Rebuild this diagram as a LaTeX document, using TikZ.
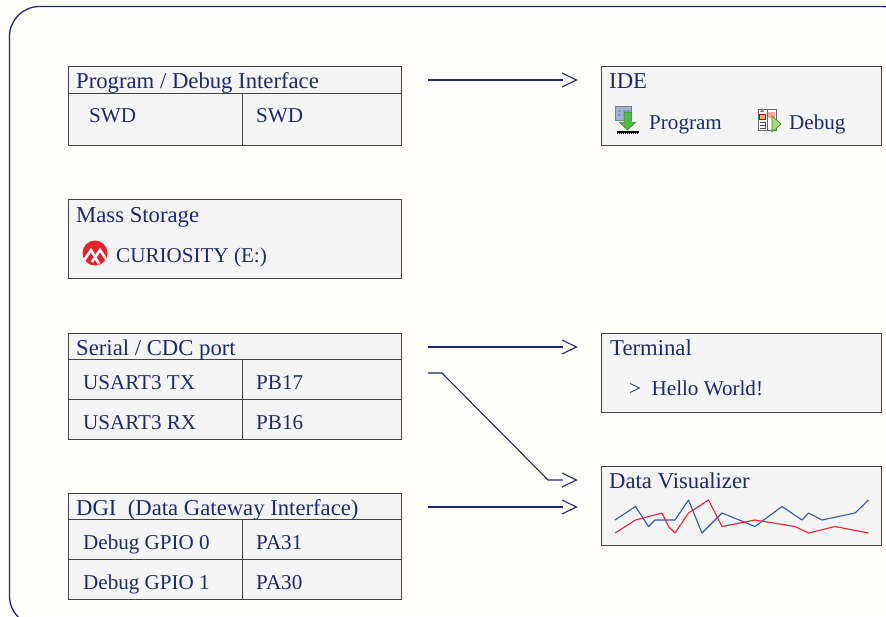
\documentclass[tikz,border=0pt]{standalone}
\usepackage{fontspec}
\setmainfont{Liberation Serif}
\usetikzlibrary{calc}
\definecolor{navy}{HTML}{1B2A6B}
\definecolor{paper}{HTML}{FFFEFB}
\definecolor{boxfill}{HTML}{F5F5F6}
\definecolor{edgegrey}{HTML}{444446}
\definecolor{lineblue}{HTML}{2F55A8}
\definecolor{linered}{HTML}{F0202F}
\definecolor{mchip}{HTML}{E8212B}
\definecolor{arrowgreen}{HTML}{56B848}
\definecolor{darkgreen}{HTML}{2F8A34}
\definecolor{chipblue}{HTML}{9DB4D8}
\definecolor{playgreen}{HTML}{A8D878}
\tikzset{
  x=1pt,y=-1pt,
  panel/.style={draw=edgegrey,fill=boxfill,line width=1pt,xshift=-.15pt,yshift=.15pt},
  rule/.style={draw=edgegrey,line width=1pt,xshift=-.15pt,yshift=.15pt},
  label/.style={anchor=base west,inner sep=0pt,text=navy,font=\fontsize{21.1}{24}\selectfont},
  head/.style={label,font=\fontsize{22.7}{26}\selectfont},
  wire/.style={draw=navy,line width=1.1pt},
  frame/.style={draw=navy,line width=1.3pt}
}
\newcommand{\openhead}[1]{\draw[wire,line join=miter] ($(#1)+(-14.5,-7)$) -- (#1) -- ($(#1)+(-14.5,7)$);}
\begin{document}
\begin{tikzpicture}
\useasboundingbox (0,0) rectangle (886,616);
\fill[paper] (0,0) rectangle (886,616);
\begin{scope}
\clip (0,0) rectangle (886,616);
\draw[frame,rounded corners=30pt] (9.5,626) -- (9.5,6.5) -- (912,6.5) -- (912,626) -- cycle;
\end{scope}

% Program / Debug
\draw[panel] (69,67) rectangle (402,146);
\draw[rule] (69,93.5) -- (402,93.5) (242.5,93.5) -- (242.5,146);
\node[head] (pd) at (76,88) {Program / Debug Interface};
\node[label] (swda) at (89,122) {SWD};
\node[label] (swdb) at (256,122) {SWD};

% Mass storage
\draw[panel] (69,200) rectangle (402,279);
\node[head] (ms) at (76,222) {Mass Storage};
\node[label] (cur) at (116,262) {CURIOSITY (E:)};
% Microchip logo
\fill[mchip] (95,253) circle (12.5);
\begin{scope}
\clip (95,253) circle (12.5);
\draw[white,line width=2.6pt] (83,262) -- (91,250) -- (99,264);
\draw[white,line width=2.6pt] (92,262) -- (100,250) -- (108,262);
\end{scope}

% Serial
\draw[panel] (69,334) rectangle (402,440);
\draw[rule] (69,360) -- (402,360) (69,400) -- (402,400) (242.5,360) -- (242.5,440);
\node[head] (ser) at (76,355) {Serial / CDC port};
\node[label] (tx) at (83,389) {USART3 TX};
\node[label] (txp) at (256,389) {PB17};
\node[label] (rx) at (83,429) {USART3 RX};
\node[label] (rxp) at (256,429) {PB16};

% DGI
\draw[panel] (69,493.5) rectangle (402,600);
\draw[rule] (69,520) -- (402,520) (69,560) -- (402,560) (242.5,520) -- (242.5,600);
\node[head] (dgi) at (76,515) {DGI\ \ (Data Gateway Interface)};
\node[label] (g0) at (83,549) {Debug GPIO 0};
\node[label] (g0p) at (256,549) {PA31};
\node[label] (g1) at (83,589) {Debug GPIO 1};
\node[label] (g1p) at (256,589) {PA30};

% IDE
\draw[panel] (602,67) rectangle (882,146);
\node[head] (ide) at (609,88) {IDE};
\node[label] (prog) at (649,129) {Program};
\node[label] (dbg) at (789,129) {Debug};
% program icon
\fill[chipblue,draw=gray,line width=.6pt] (615.5,106.5) rectangle (631,120);
\foreach \p/\q in {618/110,623/110,627/110,618/114,623/114}{\fill[navy!50] (\p,\q) rectangle +(3,2);}
\fill[arrowgreen,draw=darkgreen,line width=.5pt] (624,112) -- (631,112) -- (631,122) -- (636,122) -- (627.5,130) -- (619,122) -- (624,122) -- cycle;
\draw[black,line width=2pt] (617,131.5) -- (639,131.5);
\draw[black,line width=1pt,dash pattern=on 1pt off 1pt] (617,133.5) -- (639,133.5);
% debug icon
\fill[white,draw=gray!80!black,line width=.8pt] (758,109) rectangle (776,130);
\draw[gray!80!black,line width=.8pt] (767,109) -- (767,130);
\fill[gray] (760,112) -- (762,108) -- (764,112) -- cycle;
\fill[orange!60,draw=red!70!black,line width=.6pt] (759.5,114) rectangle (765,119);
\draw[black!70,line width=.7pt] (760,122) -- (765,122) -- (765,128) -- (760,128) (760,125) -- (765,125);
\fill[red!35] (768,112) rectangle (775,118);
\fill[playgreen,draw=darkgreen,line width=.6pt] (772,116) -- (781,124) -- (772,132) -- cycle;

% Terminal
\draw[panel] (602,334) rectangle (882,413);
\node[head] (term) at (610,355) {Terminal};
\node[label] (hello) at (629,395) {>\ \ Hello World!};

% Data visualizer
\draw[panel] (602,467) rectangle (882,546);
\node[head] (dv) at (609,488) {Data Visualizer};
\draw[lineblue,line width=1.1pt,line join=round] (615,520) -- (635.5,506.5) -- (648.5,526.5) -- (655,520) -- (675,520) -- (688.5,500) -- (702,533) -- (722,513) -- (755,526.5) -- (782,506.5) -- (802,520) -- (808.5,513) -- (822,520) -- (855,513) -- (868.5,500);
\draw[linered,line width=1.1pt,line join=round] (615,533) -- (635.5,520) -- (662,513) -- (668.5,526.5) -- (675,533) -- (688.5,513) -- (708.5,500) -- (722,526.5) -- (755,520) -- (795,526.5) -- (808.5,533) -- (835,526.5) -- (868.5,533);

% Connectors
\coordinate (a1s) at (428,80);
\coordinate (a1e) at (576.5,80);
\coordinate (a2s) at (428,347);
\coordinate (a2e) at (576.5,347);
\coordinate (a3s) at (428,373);
\coordinate (a3b) at (442,373);
\coordinate (a3c) at (548,480);
\coordinate (a3e) at (576.5,480);
\coordinate (a4s) at (428,507);
\coordinate (a4e) at (576.5,507);
\draw[wire] (a1s) -- ($(a1e)+(-14,0)$);
\draw[wire] (a2s) -- ($(a2e)+(-14,0)$);
\draw[wire] (a3s) -- (a3b) -- (a3c) -- ($(a3e)+(-14,0)$);
\draw[wire] (a4s) -- ($(a4e)+(-14,0)$);
\openhead{a1e}
\openhead{a2e}
\openhead{a3e}
\openhead{a4e}
\end{tikzpicture}
\end{document}
